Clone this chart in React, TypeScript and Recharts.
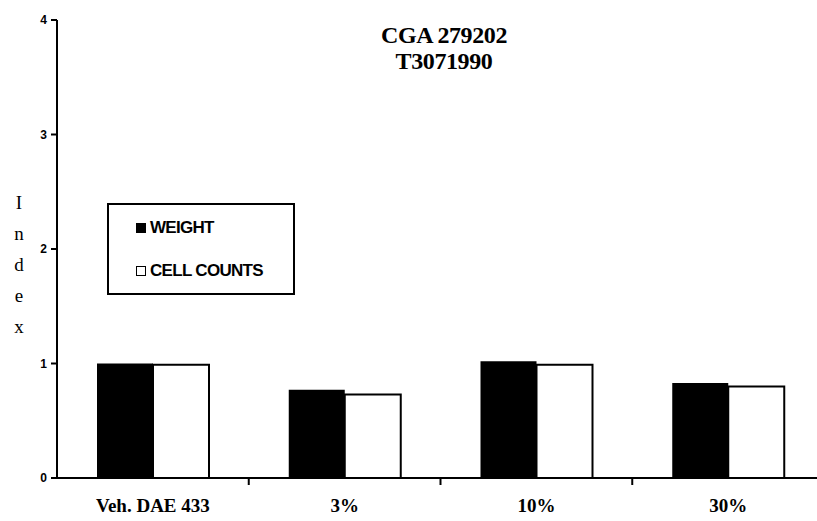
import React from 'react';
import { BarChart, Bar, XAxis, YAxis } from 'recharts';

const categories = ['Veh. DAE 433', '3%', '10%', '30%'];
const weight = [1.0, 0.77, 1.02, 0.83];
const cellCounts = [0.99, 0.73, 0.99, 0.8];
const yTicks = [0, 1, 2, 3, 4];
const titleLines = ['CGA 279202', 'T3071990'];
const yLabel = 'Index';

const series = [
  { key: 'weight', name: 'WEIGHT', fill: '#000' },
  { key: 'cellCounts', name: 'CELL COUNTS', fill: '#fff' },
];

const data = categories.map((name, i) => ({
  name,
  weight: weight[i],
  cellCounts: cellCounts[i],
}));

const CHART_W = 824;
const CHART_H = 521;
const Y_W = 57;
const BAND = (CHART_W - Y_W) / categories.length;

const XTick = (props: any) => {
  const { x, y, payload } = props;
  const half = BAND / 2;
  return (
    <g>
      <line x1={x + half} y1={y} x2={x + half} y2={y + 7} stroke="#000" strokeWidth={2} />
      <text
        x={x}
        y={y + 34}
        textAnchor="middle"
        fontFamily="'Liberation Serif', serif"
        fontWeight="bold"
        fontSize={19}
        fill="#000"
      >
        {payload.value}
      </text>
    </g>
  );
};

const YLabel = () => (
  <text
    x={19}
    textAnchor="middle"
    fontFamily="'Liberation Serif', serif"
    fontSize={19}
    fill="#000"
  >
    {yLabel.split('').map((ch, i) => (
      <tspan key={i} x={19} y={209 + i * 31}>
        {ch}
      </tspan>
    ))}
  </text>
);

const LegendBox = () => (
  <div
    style={{
      position: 'absolute',
      left: 107,
      top: 203,
      width: 184,
      height: 88,
      border: '2px solid #000',
      background: '#fff',
      fontFamily: "'Liberation Sans', Arial, sans-serif",
      fontWeight: 'bold',
      fontSize: 17,
      letterSpacing: -0.7,
    }}
  >
    {series.map((s, i) => (
      <div
        key={s.key}
        style={{
          position: 'absolute',
          left: 27,
          top: i === 0 ? 13 : 56,
          display: 'flex',
          alignItems: 'center',
          color: '#000',
          lineHeight: '20px',
        }}
      >
        <span
          style={{
            display: 'inline-block',
            width: 8,
            height: 8,
            border: '1.5px solid #000',
            background: s.fill,
            marginRight: 4,
          }}
        />
        {s.name}
      </div>
    ))}
  </div>
);

export default function App() {
  return (
    <div
      style={{
        position: 'absolute',
        left: 0,
        top: 0,
        width: 817,
        height: 521,
        overflow: 'hidden',
        background: '#fff',
      }}
    >
      <BarChart
        width={CHART_W}
        height={CHART_H}
        data={data}
        margin={{ top: 20, right: 0, left: 0, bottom: 0 }}
        barGap={0}
      >
        <XAxis
          dataKey="name"
          height={43}
          tickSize={0}
          tickMargin={0}
          tickLine={false}
          axisLine={{ stroke: '#000', strokeWidth: 2 }}
          tick={<XTick />}
          interval={0}
        />
        <YAxis
          width={Y_W}
          domain={[0, 4]}
          ticks={yTicks}
          tickSize={6}
          tickMargin={4}
          tickLine={{ stroke: '#000', strokeWidth: 2 }}
          axisLine={{ stroke: '#000', strokeWidth: 2 }}
          tick={{
            fill: '#000',
            fontSize: 12,
            fontWeight: 'bold',
            fontFamily: "'Liberation Sans', Arial, sans-serif",
          }}
          label={<YLabel />}
        />
        {series.map((s) => (
          <Bar
            key={s.key}
            dataKey={s.key}
            name={s.name}
            fill={s.fill}
            stroke={s.key === 'cellCounts' ? '#000' : undefined}
            strokeWidth={s.key === 'cellCounts' ? 2 : 0}
            barSize={56}
            isAnimationActive={false}
          />
        ))}
      </BarChart>
      <LegendBox />
      <div
        style={{
          position: 'absolute',
          left: 344,
          top: 22,
          width: 200,
          textAlign: 'center',
          fontFamily: "'Liberation Serif', serif",
          fontWeight: 'bold',
          fontSize: 24,
          lineHeight: '26px',
          letterSpacing: -0.4,
          color: '#000',
        }}
      >
        {titleLines.map((t, i) => (
          <div key={i}>{t}</div>
        ))}
      </div>
    </div>
  );
}
